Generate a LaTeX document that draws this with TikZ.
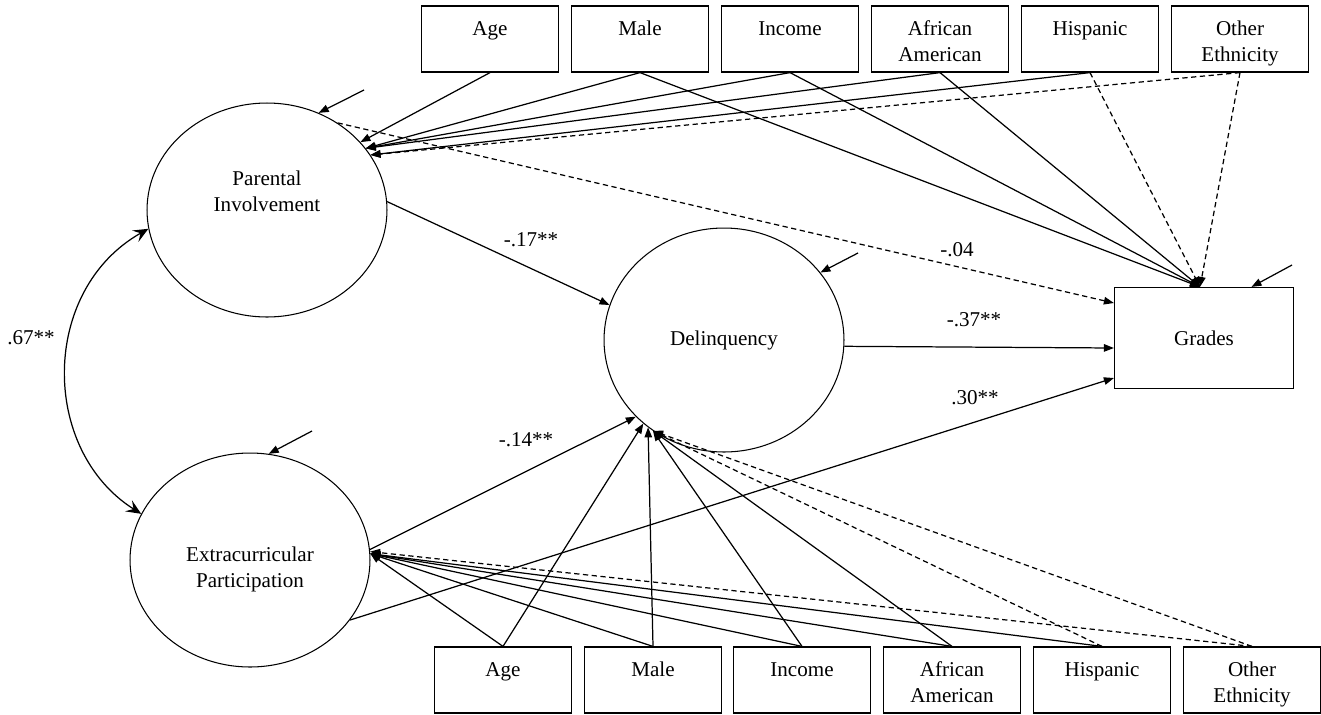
\documentclass[tikz,border=0pt]{standalone}
\usepackage{fontspec}
\setmainfont{Liberation Serif}
\usetikzlibrary{arrows.meta,shapes.geometric}

\begin{document}
\begin{tikzpicture}[x=0.02cm,y=-0.02cm,font=\fontsize{12}{15.3}\selectfont]
\useasboundingbox (0,0) rectangle (1321,714);

% covariates
\begin{scope}[every node/.style={rectangle,draw,line width=0.7pt,minimum width=2.75cm,
      text width=2.6cm,align=center,inner xsep=0pt,inner ysep=0pt,
      text height=0.58cm,text depth=0.74cm}]
    \node (tAge) at (490,39) {Age};
    \node (tMale) at (640,39) {Male};
    \node (tIncome) at (790,39) {Income};
    \node (tAfrAm) at (940,39) {African\\American};
    \node (tHisp) at (1090,39) {Hispanic};
    \node (tOther) at (1240,39) {Other\\Ethnicity};
    \node (bAge) at (503,680) {Age};
    \node (bMale) at (653,680) {Male};
    \node (bIncome) at (802,680) {Income};
    \node (bAfrAm) at (952,680) {African\\American};
    \node (bHisp) at (1102,680) {Hispanic};
    \node (bOther) at (1252,680) {Other\\Ethnicity};
\end{scope}

% latent variables and outcome
\begin{scope}[every node/.style={ellipse,draw,line width=0.6pt,minimum width=4.8cm,
      inner sep=0pt,text width=3cm,align=center}]
    \node[minimum height=4.28cm,text height=0.35cm,text depth=1.35cm] (PI) at (267,210) {Parental\\Involvement};
    \node[minimum height=4.48cm] (Delinq) at (724,340) {Delinquency};
    \node[minimum height=4.28cm,text height=0.4cm,text depth=0.36cm] (Extra) at (250,560) {Extracurricular\\Participation};
\end{scope}
\node[rectangle,draw,line width=0.7pt,minimum width=3.58cm,minimum height=2.02cm] (Grades) at (1204,338) {Grades};

% coefficients
\node (lCov) at (31,338) {.67**};
\node (lPIDel) at (531,240) {-.17**};
\node (lPIGr) at (957,250) {-.04};
\node (lDelGr) at (974,320) {-.37**};
\node (lExGr) at (975,398) {.30**};
\node (lExDel) at (526,440) {-.14**};

% error terms
\coordinate (ePI) at (364,90);
\coordinate (eDel) at (858,253);
\coordinate (eGr) at (1292,265);
\coordinate (eEx) at (312,431);

\begin{scope}[>={Triangle[length=0.2cm,width=0.15cm]},
              nonsig/.style={dash pattern=on 3pt off 2pt},
              every edge/.style={draw=black,line width=0.7pt}]
    \path [->] (tAge.south) edge (PI.36);
    \path [->] (tMale.south) edge (PI.32);
    \path [->] (tIncome.south) edge (PI.32);
    \path [->] (tAfrAm.south) edge (PI.32);
    \path [->] (tHisp.south) edge (PI.28);
    \path [->] (tOther.south) edge[nonsig] (PI.28);
    \path [->] (tMale.south) edge ([xshift=-0.08cm]Grades.north);
    \path [->] (tIncome.south) edge ([xshift=-0.08cm]Grades.north);
    \path [->] (tAfrAm.south) edge ([xshift=-0.08cm]Grades.north);
    \path [->] (tHisp.south) edge[nonsig] ([xshift=-0.08cm]Grades.north);
    \path [->] (tOther.south) edge[nonsig] ([xshift=-0.08cm]Grades.north);
    \path [->] (PI.51) edge[nonsig] ([yshift=0.7cm]Grades.west);
    \path [->] (PI.4) edge (Delinq.163);
    \path [->] (Delinq.-3) edge ([yshift=-0.2cm]Grades.west);
    \path [->] (Extra.-31) edge ([yshift=-0.8cm]Grades.west);
    \path [->] (Extra.5) edge (Delinq.221);
    \path [->] (bAge.north) edge (Delinq.226);
    \path [->] (bMale.north) edge (Delinq.229);
    \path [->] (bIncome.north) edge (Delinq.232);
    \path [->] (bAfrAm.north) edge (Delinq.232);
    \path [->] (bHisp.north) edge[nonsig] (Delinq.232);
    \path [->] (bOther.north) edge[nonsig] (Delinq.232);
    \path [->] (bAge.north) edge (Extra.3);
    \path [->] (bMale.north) edge (Extra.3);
    \path [->] (bIncome.north) edge (Extra.3);
    \path [->] (bAfrAm.north) edge (Extra.3);
    \path [->] (bHisp.north) edge (Extra.3);
    \path [->] (bOther.north) edge[nonsig] (Extra.4);
    \path [->] (ePI) edge (PI.62);
    \path [->] (eDel) edge (Delinq.35);
    \path [->] (eGr) edge ([xshift=0.95cm]Grades.north);
    \path [->] (eEx) edge (Extra.80);
\end{scope}

\draw [line width=0.7pt,{Stealth[length=0.3cm,width=0.26cm,inset=0.12cm]}-{Stealth[length=0.3cm,width=0.26cm,inset=0.12cm]}]
    (PI.189) .. controls (40,290) and (40,450) .. (Extra.157);
\end{tikzpicture}
\end{document}
